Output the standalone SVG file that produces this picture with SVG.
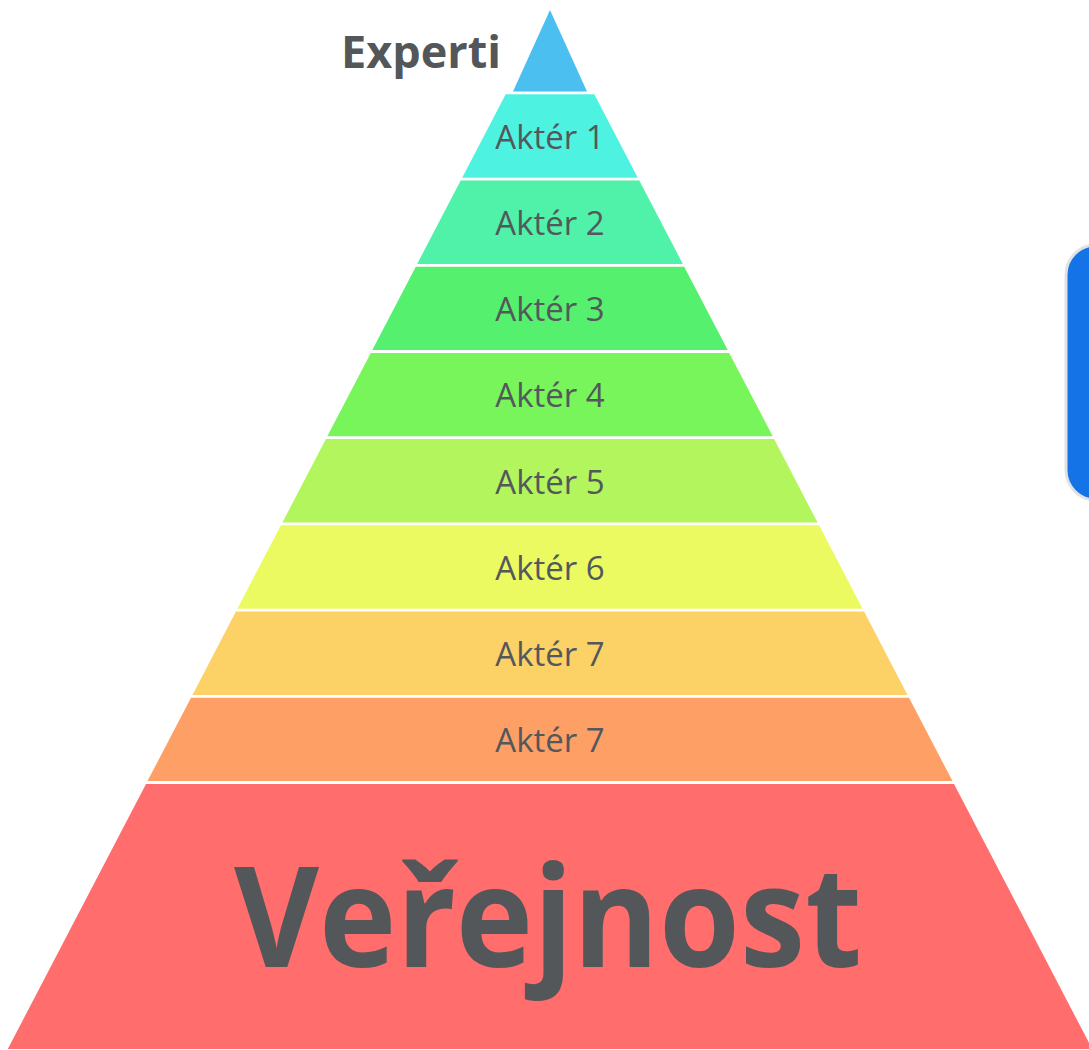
<svg xmlns="http://www.w3.org/2000/svg" width="1089" height="1050" viewBox="0 0 1089 1050">
<style>
.lbl{font-family:"Open Sans","Liberation Sans",sans-serif;font-size:33px;fill:#54585c;text-anchor:middle}
.big{font-family:"Open Sans","Liberation Sans",sans-serif;font-weight:700;fill:#53575a}
</style>
<rect width="1089" height="1050" fill="#ffffff"/>
<g id="experti">
<polygon points="550,10 587,91.5 513,91.5" fill="#4bbfef"/>
<text class="big" x="501" y="67.5" font-size="45" text-anchor="end">Experti</text>
</g>
<g id="akter1">
<polygon points="505.7,94.3 594.3,94.3 637.8,177.7 462.2,177.7" fill="#4ef2e0"/>
<text class="lbl" x="550" y="148.5">Aktér 1</text>
</g>
<g id="akter2">
<polygon points="460.7,180.5 639.3,180.5 682.8,263.9 417.2,263.9" fill="#4ff2a8"/>
<text class="lbl" x="550" y="234.7">Aktér 2</text>
</g>
<g id="akter3">
<polygon points="415.8,266.7 684.2,266.7 727.7,350.1 372.3,350.1" fill="#55f06e"/>
<text class="lbl" x="550" y="320.9">Aktér 3</text>
</g>
<g id="akter4">
<polygon points="370.8,352.9 729.2,352.9 772.7,436.3 327.3,436.3" fill="#77f55a"/>
<text class="lbl" x="550" y="407.3">Aktér 4</text>
</g>
<g id="akter5">
<polygon points="325.9,439.1 774.1,439.1 817.6,522.5 282.4,522.5" fill="#b3f55c"/>
<text class="lbl" x="550" y="493.5">Aktér 5</text>
</g>
<g id="akter6">
<polygon points="280.9,525.3 819.1,525.3 862.6,608.7 237.4,608.7" fill="#ebfa60"/>
<text class="lbl" x="550" y="579.7">Aktér 6</text>
</g>
<g id="akter7a">
<polygon points="235.9,611.5 864.1,611.5 907.5,694.9 192.5,694.9" fill="#fcd166"/>
<text class="lbl" x="550" y="665.9">Aktér 7</text>
</g>
<g id="akter7b">
<polygon points="191,697.7 909,697.7 952.5,781.1 147.5,781.1" fill="#fe9f66"/>
<text class="lbl" x="550" y="752.1">Aktér 7</text>
</g>
<g id="verejnost">
<polygon points="146,783.9 954,783.9 1092.2,1049 7.8,1049" fill="#ff6d6d"/>
<text class="big" x="548" y="966.5" font-size="140" font-weight="600" text-anchor="middle" textLength="628" lengthAdjust="spacingAndGlyphs">Veřejnost</text>
</g>
<g id="bluebox">
<rect x="1066" y="245" width="80" height="255" rx="30" ry="30" fill="#1473e6" stroke="#e2e2e2" stroke-width="3"/>
</g>
<g id="connectors"></g>
</svg>
